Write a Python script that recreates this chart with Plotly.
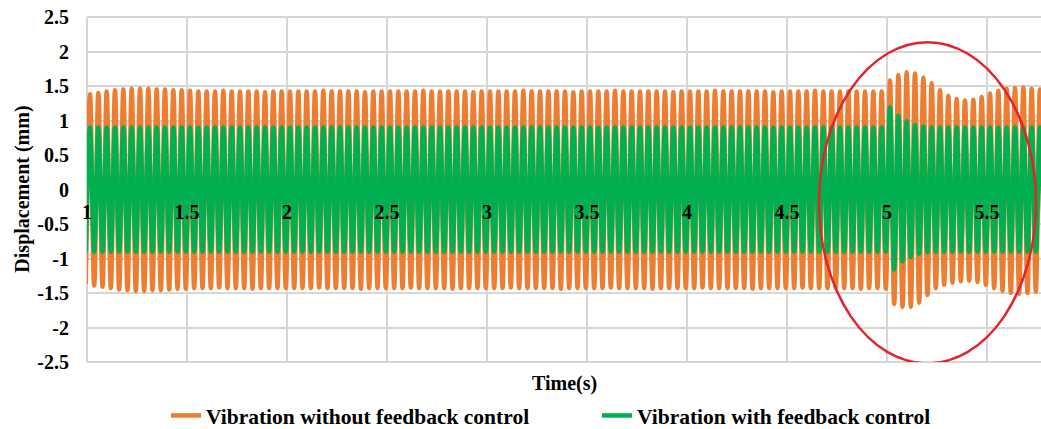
import numpy as np
import plotly.graph_objects as go

# Oscillation timing: 24 Hz response, first crest just after t = 1 s
FREQ_HZ = 24.0
FIRST_PEAK_S = 1.015

# Displacement crests / troughs (mm), one per cycle
orange_lead = -1.37
orange_peaks = [
    1.38, 1.40, 1.42, 1.44, 1.45, 1.46, 1.46, 1.46, 1.45, 1.45, 1.44, 1.44, 1.43,
    1.42, 1.42, 1.42, 1.43, 1.42, 1.42, 1.42, 1.42, 1.41, 1.42,
    1.42, 1.42, 1.42, 1.42, 1.42, 1.43, 1.42, 1.42, 1.42, 1.42,
    1.41, 1.42, 1.42, 1.42, 1.42, 1.42, 1.42, 1.43, 1.42, 1.42,
    1.42, 1.42, 1.42, 1.41, 1.42, 1.42, 1.42, 1.42, 1.42, 1.43,
    1.42, 1.42, 1.42, 1.42, 1.42, 1.41, 1.42, 1.42, 1.42, 1.42,
    1.43, 1.42, 1.42, 1.42, 1.42, 1.42, 1.42, 1.41, 1.42, 1.42,
    1.42, 1.42, 1.43, 1.42, 1.42, 1.42, 1.42, 1.42, 1.42, 1.41,
    1.42, 1.42, 1.42, 1.42, 1.43, 1.42, 1.42, 1.42, 1.42, 1.42,
    1.42, 1.42, 1.42,
    1.58, 1.66, 1.70, 1.68, 1.62, 1.54, 1.44, 1.36, 1.31, 1.29,
    1.30, 1.34, 1.39, 1.43, 1.46, 1.47, 1.48, 1.46, 1.45,
]
orange_troughs = [
    -1.39, -1.41, -1.43, -1.45, -1.46, -1.47, -1.47, -1.46, -1.46, -1.45, -1.44, -1.44, -1.43,
    -1.43, -1.43, -1.42, -1.43, -1.43, -1.43, -1.44, -1.43, -1.43, -1.43,
    -1.43, -1.43, -1.43, -1.43, -1.42, -1.43, -1.43, -1.43, -1.43, -1.44,
    -1.43, -1.43, -1.43, -1.43, -1.43, -1.42, -1.43, -1.43, -1.43, -1.43,
    -1.44, -1.43, -1.43, -1.43, -1.43, -1.43, -1.43, -1.42, -1.43, -1.43,
    -1.43, -1.43, -1.43, -1.44, -1.43, -1.43, -1.43, -1.43, -1.43, -1.42,
    -1.43, -1.43, -1.43, -1.43, -1.44, -1.43, -1.43, -1.43, -1.43, -1.43,
    -1.42, -1.43, -1.43, -1.43, -1.43, -1.43, -1.44, -1.43, -1.43, -1.43,
    -1.43, -1.43, -1.42, -1.43, -1.43, -1.43, -1.43, -1.43, -1.43, -1.44,
    -1.43, -1.43, -1.44,
    -1.66, -1.70, -1.70, -1.64, -1.53, -1.43, -1.38, -1.35, -1.33, -1.32,
    -1.34, -1.38, -1.43, -1.47, -1.50, -1.51, -1.50, -1.48, -1.47,
]

green_lead = -0.90
green_peaks = [
    0.90, 0.90, 0.90, 0.90, 0.90, 0.90, 0.90, 0.90, 0.90, 0.90, 0.90, 0.90, 0.90, 0.90, 0.90, 0.90,
    0.90, 0.90, 0.90, 0.90, 0.90, 0.90, 0.90, 0.90, 0.90, 0.90, 0.90, 0.90, 0.90, 0.90, 0.90, 0.90,
    0.90, 0.90, 0.90, 0.90, 0.90, 0.90, 0.90, 0.90, 0.90, 0.90, 0.90, 0.90, 0.90, 0.90, 0.90, 0.90,
    0.90, 0.90, 0.90, 0.90, 0.90, 0.90, 0.90, 0.90, 0.90, 0.90, 0.90, 0.90, 0.90, 0.90, 0.90, 0.90,
    0.90, 0.90, 0.90, 0.90, 0.90, 0.90, 0.90, 0.90, 0.90, 0.90, 0.90, 0.90, 0.90, 0.90, 0.90, 0.90,
    0.90, 0.90, 0.90, 0.90, 0.90, 0.90, 0.90, 0.90, 0.90, 0.90, 0.90, 0.90, 0.90, 0.90, 0.90, 0.90,
    1.19, 1.07, 0.99, 0.93, 0.91,
    0.90, 0.90, 0.90, 0.90, 0.90, 0.90, 0.90, 0.90, 0.90, 0.90, 0.90, 0.90, 0.90, 0.90,
]
green_troughs = [
    -0.90, -0.90, -0.90, -0.90, -0.90, -0.90, -0.90, -0.90, -0.90, -0.90, -0.90, -0.90, -0.90, -0.90, -0.90, -0.90,
    -0.90, -0.90, -0.90, -0.90, -0.90, -0.90, -0.90, -0.90, -0.90, -0.90, -0.90, -0.90, -0.90, -0.90, -0.90, -0.90,
    -0.90, -0.90, -0.90, -0.90, -0.90, -0.90, -0.90, -0.90, -0.90, -0.90, -0.90, -0.90, -0.90, -0.90, -0.90, -0.90,
    -0.90, -0.90, -0.90, -0.90, -0.90, -0.90, -0.90, -0.90, -0.90, -0.90, -0.90, -0.90, -0.90, -0.90, -0.90, -0.90,
    -0.90, -0.90, -0.90, -0.90, -0.90, -0.90, -0.90, -0.90, -0.90, -0.90, -0.90, -0.90, -0.90, -0.90, -0.90, -0.90,
    -0.90, -0.90, -0.90, -0.90, -0.90, -0.90, -0.90, -0.90, -0.90, -0.90, -0.90, -0.90, -0.90, -0.90, -0.90, -0.90,
    -1.16, -1.04, -0.98, -0.93, -0.91,
    -0.90, -0.90, -0.90, -0.90, -0.90, -0.90, -0.90, -0.90, -0.90, -0.90, -0.90, -0.90, -0.90, -0.90,
]

# Axis ticks
x_tick_vals = [1, 1.5, 2, 2.5, 3, 3.5, 4, 4.5, 5, 5.5]
x_tick_text = ["1", "1.5", "2", "2.5", "3", "3.5", "4", "4.5", "5", "5.5"]
y_tick_vals = [2.5, 2, 1.5, 1, 0.5, 0, -0.5, -1, -1.5, -2, -2.5]
y_tick_text = ["2.5", "2", "1.5", "1", "0.5", "0", "-0.5", "-1", "-1.5", "-2", "-2.5"]

series_names = ["Vibration without feedback control", "Vibration with feedback control"]
series_colors = ["#ED7D31", "#00B050"]

FONT = "Liberation Serif"
X_RANGE = [1, 5.77]
Y_RANGE = [-2.5, 2.5]


def build_wave(lead, peaks, troughs):
    """Interleave crests and troughs into one time series (half-period spacing)."""
    vals = [lead]
    for p, tr in zip(peaks, troughs):
        vals.extend([p, tr])
    t = FIRST_PEAK_S + (np.arange(len(vals)) - 1) * 0.5 / FREQ_HZ
    return t, vals


fig = go.Figure()
for name, color, (lead, pk, tr) in zip(
    series_names,
    series_colors,
    [(orange_lead, orange_peaks, orange_troughs), (green_lead, green_peaks, green_troughs)],
):
    t, v = build_wave(lead, pk, tr)
    fig.add_trace(go.Scatter(
        x=t, y=v, mode="lines", name=name,
        line=dict(color=color, width=4.5, shape="spline", smoothing=1),
        hoverinfo="skip",
    ))

grid_color = "#D6D6D6"

# Plot-area frame on the left, top and bottom edges
for x0, x1, y0, y1 in [(0, 0, 0, 1), (0, 1, 0, 0), (0, 1, 1, 1)]:
    fig.add_shape(type="line", xref="paper", yref="paper", x0=x0, x1=x1, y0=y0, y1=y1,
                  line=dict(color=grid_color, width=2), layer="below")

# Highlight of the disturbance around t = 5 s
fig.add_shape(
    type="circle", xref="x", yref="y",
    x0=4.66, x1=5.745, y0=-2.52, y1=2.135,
    line=dict(color="#E3242B", width=2.5), layer="above",
)

fig.update_layout(
    width=1041, height=429,
    margin=dict(l=87, r=0, t=17, b=67, autoexpand=False),
    paper_bgcolor="white", plot_bgcolor="white",
    font=dict(family=FONT, color="black", size=20),
    showlegend=True,
    legend=dict(
        orientation="h", x=0.5346, xanchor="center", y=-0.0956, yanchor="top",
        font=dict(family=FONT, size=21.5, color="black", weight="bold"),
        bgcolor="rgba(0,0,0,0)",
        entrywidth=386, entrywidthmode="pixels",
        tracegroupgap=0,
    ),
    xaxis=dict(
        range=X_RANGE, tickvals=x_tick_vals, ticktext=x_tick_text,
        anchor="free", position=0.5, side="bottom",
        showline=False, zeroline=False, ticks="",
        showgrid=True, gridcolor=grid_color, gridwidth=2,
        tickfont=dict(family=FONT, size=20, color="black", weight="bold"),
        ticklabelstandoff=8,
    ),
    yaxis=dict(
        range=Y_RANGE, tickvals=y_tick_vals, ticktext=y_tick_text,
        showline=False, zeroline=False, ticks="",
        showgrid=True, gridcolor=grid_color, gridwidth=2,
        tickfont=dict(family=FONT, size=20, color="black", weight="bold"),
        ticklabelstandoff=17,
    ),
    annotations=[
        dict(text="Displacement (mm)", xref="paper", yref="paper",
             x=-0.068, y=0.5, xanchor="center", yanchor="middle", textangle=-90,
             showarrow=False, font=dict(family=FONT, size=20, color="black", weight="bold")),
        dict(text="Time(s)", xref="paper", yref="paper",
             x=0.5, y=-0.061, xanchor="center", yanchor="middle",
             showarrow=False, font=dict(family=FONT, size=20, color="black", weight="bold")),
    ],
)

fig.write_html("out.html")
